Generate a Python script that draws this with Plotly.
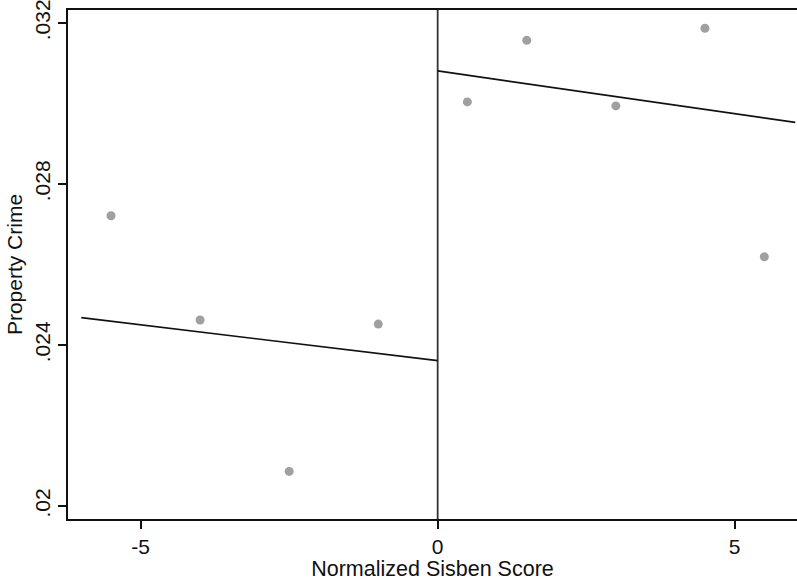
import plotly.graph_objects as go

# Binned means (scatter)
bin_x_left = [-5.5, -4.0, -2.5, -1.0]
bin_y_left = [0.02721, 0.02462, 0.02086, 0.02452]
bin_x_right = [0.5, 1.5, 3.0, 4.5, 5.5]
bin_y_right = [0.03004, 0.03157, 0.02994, 0.03187, 0.02619]

# Linear fits on each side of cutoff
fit_x_left = [-6.0, 0.0]
fit_y_left = [0.02468, 0.02361]
fit_x_right = [0.0, 6.02]
fit_y_right = [0.03081, 0.02953]

cutoff = 0.0

x_tickvals = [-5, 0, 5]
x_ticktext = ["-5", "0", "5"]
y_tickvals = [0.020, 0.024, 0.028, 0.032]
y_ticktext = [".02", ".024", ".028", ".032"]

FONT = "Liberation Sans, Arial, sans-serif"

fig = go.Figure()
marker = dict(color="#a0a0a0", size=9)
fig.add_trace(go.Scatter(x=bin_x_left, y=bin_y_left, mode="markers", marker=marker, showlegend=False))
fig.add_trace(go.Scatter(x=bin_x_right, y=bin_y_right, mode="markers", marker=marker, showlegend=False))
fig.add_trace(go.Scatter(x=fit_x_left, y=fit_y_left, mode="lines", line=dict(color="#111111", width=1.7), showlegend=False))
fig.add_trace(go.Scatter(x=fit_x_right, y=fit_y_right, mode="lines", line=dict(color="#111111", width=1.7), showlegend=False))

fig.add_vline(x=cutoff, line=dict(color="#333333", width=1.8), layer="below")

fig.update_layout(
    width=797, height=581,
    margin=dict(l=68, r=0, t=10, b=62),
    paper_bgcolor="white", plot_bgcolor="white",
    font=dict(family=FONT, size=21, color="#111111"),
    xaxis=dict(
        range=[-6.224, 6.05], tickvals=x_tickvals, ticktext=x_ticktext,
        showgrid=False, zeroline=False,
        showline=True, linecolor="#111111", linewidth=2, mirror=True,
        ticks="outside", ticklen=8, tickwidth=1.5, tickcolor="#111111",
        title=dict(text="Normalized Sisben Score", standoff=1, font=dict(size=21.5)),
        tickfont=dict(size=21),
    ),
    yaxis=dict(
        range=[0.019677, 0.032323], tickvals=y_tickvals, ticktext=y_ticktext,
        showgrid=False, zeroline=False,
        showline=True, linecolor="#111111", linewidth=2, mirror=False,
        ticks="outside", ticklen=8, tickwidth=1.5, tickcolor="#111111",
        tickangle=-90, ticklabeloverflow="allow",
        title=dict(text="Property Crime", standoff=2, font=dict(size=21)),
        tickfont=dict(size=21),
    ),
)

fig.write_html("out.html")
